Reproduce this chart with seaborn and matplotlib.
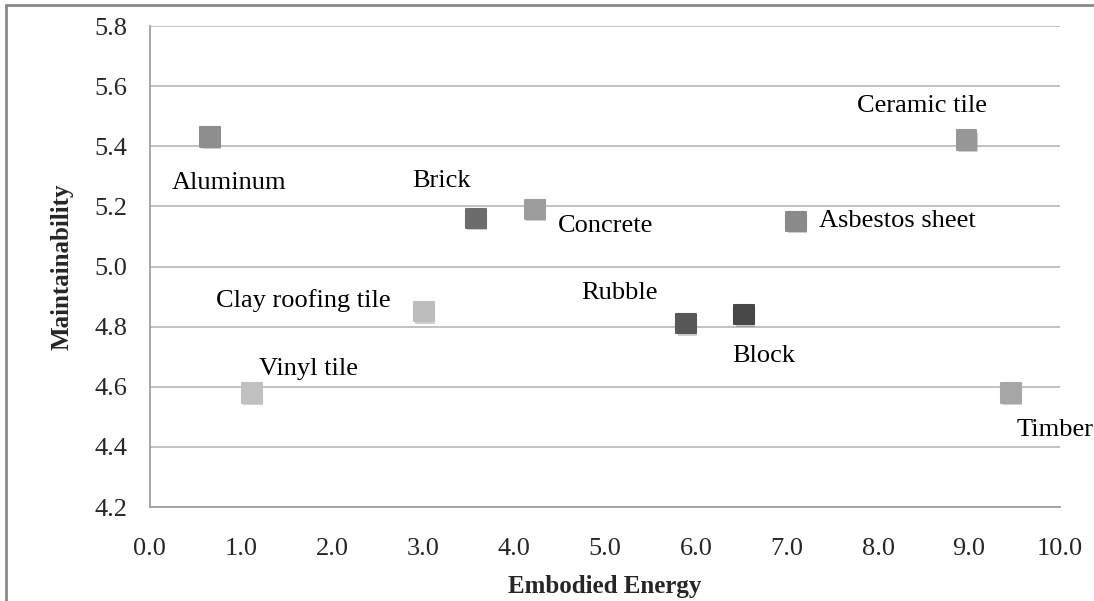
import matplotlib
matplotlib.use("Agg")
import matplotlib.pyplot as plt
import matplotlib.patheffects as pe
from matplotlib.lines import Line2D
import pandas as pd
import seaborn as sns

# Data
materials = ["Aluminum", "Ceramic tile", "Brick", "Concrete", "Asbestos sheet",
             "Clay roofing tile", "Vinyl tile", "Rubble", "Block", "Timber"]
embodied_energy = [0.66, 8.97, 3.58, 4.23, 7.10, 3.01, 1.12, 5.89, 6.53, 9.46]
maintainability = [5.43, 5.42, 5.16, 5.19, 5.15, 4.85, 4.58, 4.81, 4.84, 4.58]
x_ticks = [0.0, 1.0, 2.0, 3.0, 4.0, 5.0, 6.0, 7.0, 8.0, 9.0, 10.0]
y_ticks = [4.2, 4.4, 4.6, 4.8, 5.0, 5.2, 5.4, 5.6, 5.8]

# marker shades
colors = {
    "Aluminum": "#8e8e8e", "Ceramic tile": "#989898", "Brick": "#6c6c6c",
    "Concrete": "#9d9d9d", "Asbestos sheet": "#8a8a8a", "Clay roofing tile": "#bdbdbd",
    "Vinyl tile": "#c0c0c0", "Rubble": "#575757", "Block": "#474747", "Timber": "#a6a6a6",
}

# label offsets from the marker (points)
label_offsets = {
    "Aluminum": (14, -33), "Ceramic tile": (-32, 25), "Brick": (-25, 27),
    "Concrete": (51, -12), "Asbestos sheet": (73, 0), "Clay roofing tile": (-87, 8),
    "Vinyl tile": (41, 17), "Rubble": (-48, 22), "Block": (14, -30), "Timber": (32, -27),
}

df = pd.DataFrame({"material": materials, "energy": embodied_energy,
                   "maint": maintainability})

sns.set_style("white")
plt.rcParams["font.family"] = ["Liberation Serif", "DejaVu Serif"]

fig = plt.figure(figsize=(10.94, 6.01), dpi=100)
ax = fig.add_axes([0.137, 0.1564, 0.832, 0.8003])

sns.scatterplot(data=df, x="energy", y="maint", hue="material", palette=colors,
                marker="s", s=200, linewidth=1.5, legend=False, ax=ax, zorder=3)
coll = ax.collections[0]
coll.set_edgecolor([colors[m] for m in materials])
try:
    coll.set_joinstyle("round")
except Exception:
    pass
coll.set_path_effects([pe.SimplePatchShadow(offset=(1, -1.5), shadow_rgbFace="#000000",
                                            alpha=0.18), pe.Normal()])

for m, x, y in zip(materials, embodied_energy, maintainability):
    ax.annotate(m, (x, y), xytext=label_offsets[m], textcoords="offset points",
                ha="center", va="center", fontsize=19, color="black")

ax.set_xlim(0, 10)
ax.set_ylim(4.2, 5.8)
ax.set_xticks(x_ticks)
ax.set_yticks(y_ticks)
ax.set_xticklabels([f"{v:.1f}" for v in x_ticks])
ax.set_yticklabels([f"{v:.1f}" for v in y_ticks])
ax.tick_params(axis="both", labelsize=19, length=0)
ax.tick_params(axis="x", pad=22)
ax.tick_params(axis="y", pad=16)
ax.yaxis.grid(True, color="#bdbdbd", linewidth=1.3)
ax.set_axisbelow(True)

for side in ["top", "right"]:
    ax.spines[side].set_visible(False)
for side in ["left", "bottom"]:
    ax.spines[side].set_color("#a0a0a0")
    ax.spines[side].set_linewidth(1.3)

ax.set_xlabel("Embodied Energy", fontsize=18, fontweight="bold", labelpad=11)
ax.set_ylabel("Maintainability", fontsize=18, fontweight="bold", labelpad=15)

# outer frame around the chart
fig.add_artist(Line2D([6 / 1094, 6 / 1094], [0, 1 - 5 / 601], transform=fig.transFigure,
                      color="#8a8a8a", linewidth=2))
fig.add_artist(Line2D([6 / 1094, 1], [1 - 5 / 601, 1 - 5 / 601], transform=fig.transFigure,
                      color="#8a8a8a", linewidth=2))

fig.savefig("out.png", dpi=100)
